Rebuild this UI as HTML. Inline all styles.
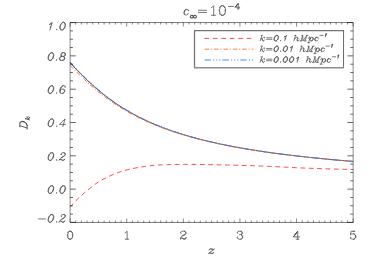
<!DOCTYPE html>
<html lang="en"><head><meta charset="utf-8"><title>Growth factor D_k versus z</title>
<style>
html,body{margin:0;padding:0;background:#fff}
body{width:374px;height:267px;overflow:hidden;font-family:"Liberation Sans",sans-serif}
svg{display:block}
.hv{fill:none;stroke:#505050;stroke-linecap:round;stroke-linejoin:round}
</style></head><body>
<svg width="374" height="267" viewBox="0 0 374 267" role="img" aria-label="Plot of D_k versus z for c_infinity = 10^-4 with k = 0.1, 0.01 and 0.001 hMpc^-1">
<defs>
<path id="gIminus" vector-effect="non-scaling-stroke" d="M4,-9 22,-9"/>
<path id="gIdot" vector-effect="non-scaling-stroke" d="M4,-1 5,0 6,-1 5,-2 4,-1"/>
<path id="gI0" vector-effect="non-scaling-stroke" d="M14,-21 16,-20 17,-19 18,-16 18,-13 17,-9 16,-6 14,-3 12,-1 9,0 11,-1 13,-3 15,-6 16,-9 17,-13 17,-16 16,-19 14,-21 12,-21 10,-20 8,-18 6,-15 5,-12 4,-8 4,-5 5,-2 7,0 5,-1 4,-2 3,-5 3,-8 4,-12 5,-15 7,-18 9,-20 12,-21M9,0 7,0"/>
<path id="gI1" vector-effect="non-scaling-stroke" d="M9,-7 10,-10M13,-18 9,-16 6,-15 8,-16 11,-18 14,-21 8,0"/>
<path id="gI2" vector-effect="non-scaling-stroke" d="M14,-21 16,-20 17,-18 17,-16 16,-14 14,-12 5,-6 3,-4 1,0M7,-17 8,-16 7,-15 6,-16 6,-17 7,-19 8,-20 11,-21 14,-21 17,-20 18,-18 18,-16 17,-14 15,-12 12,-10 8,-8M5,-3 10,-1 13,-1 15,-2 16,-4 15,-1 13,0 10,0 5,-3 3,-3 2,-2"/>
<path id="gI4" vector-effect="non-scaling-stroke" d="M18,-6 2,-6 17,-21 11,0"/>
<path id="gI6" vector-effect="non-scaling-stroke" d="M14,-11 15,-9 15,-5 14,-3 12,-1 10,0 7,0 5,-1 4,-3 4,-8 5,-12 6,-15 8,-18 10,-20 12,-21 9,-20 7,-18 5,-15 4,-12 3,-8 3,-4 4,-2 5,-1M10,0 13,-1 15,-3 16,-5 16,-8 15,-10 14,-11 12,-12 9,-12 7,-11 5,-9 4,-7M12,-21 15,-21 17,-20 18,-18 18,-17 17,-16 16,-17 17,-18"/>
<path id="gI8" vector-effect="non-scaling-stroke" d="M14,-21 16,-20 17,-18 17,-15 16,-13 15,-12 12,-11 9,-11 8,-12 7,-14 7,-17 8,-19 9,-20 11,-21 8,-20 7,-19 6,-17 6,-14 7,-12 9,-11 6,-10 4,-8 3,-6 3,-3 4,-1 6,0 10,0 14,-1 15,-2 16,-4 16,-7 15,-9 14,-10 15,-8 15,-4 14,-2 13,-1 10,0M9,-11 5,-10 3,-8 2,-6 2,-3 3,-1 6,0M11,-21 14,-21 17,-20 18,-18 18,-15 17,-13 16,-12 12,-11 14,-10"/>
<path id="gIeq" vector-effect="non-scaling-stroke" d="M4,-12 22,-12M4,-6 22,-6"/>
<path id="gID" vector-effect="non-scaling-stroke" d="M3,0 9,-21M15,-21 17,-20 18,-19 19,-16 19,-12 18,-8 16,-4 14,-2 12,-1 9,0 13,-1 15,-2 17,-4 19,-8 20,-12 20,-16 19,-19 18,-20 15,-21 6,-21M9,0 0,0"/>
<path id="gIM" vector-effect="non-scaling-stroke" d="M3,0 9,-21 10,0 23,-21 17,0M6,-21 9,-21M23,-21 27,-21M0,0 6,0M14,0 21,0"/>
<path id="gIc" vector-effect="non-scaling-stroke" d="M14,-4 12,-1 9,0 7,0 5,-1 4,-2 3,-4 3,-7 4,-10 6,-13 9,-14 7,-13 5,-10 4,-7 4,-3 5,-1M9,-14 12,-14 14,-13 15,-11 15,-10 14,-10 14,-11"/>
<path id="gIh" vector-effect="non-scaling-stroke" d="M2,0 8,-21M20,-4 19,-2 17,0 14,0 13,-1 13,-4 15,-10 15,-12 13,-14 11,-14 9,-13 7,-11 5,-7M13,-14 15,-13 16,-12 16,-10M9,-21 5,-21M14,-4 14,-1 15,0"/>
<path id="gIk" vector-effect="non-scaling-stroke" d="M2,0 8,-21M9,-21 5,-21M5,-8 7,-8 9,-7 11,-1 12,0M17,-4 15,-1 13,0 11,0 10,-1M8,-7 7,-8 9,-9 13,-13 15,-14 16,-14 17,-13 17,-12 16,-11 15,-12 16,-13"/>
<path id="gIp" vector-effect="non-scaling-stroke" d="M6,-14 7,-13 7,-11 6,-7 2,7M16,-13 17,-11 17,-7 16,-4 14,-1 12,0 10,0 8,-1 7,-4 7,-7 8,-11 8,-13 7,-14 4,-14 2,-12 1,-10M12,0 15,-1 17,-4 18,-7 18,-10 17,-12 16,-13 14,-14 12,-14 10,-13 8,-10 7,-7M-1,7 6,7"/>
<path id="gIz" vector-effect="non-scaling-stroke" d="M6,-2 10,-1 13,-1 15,-2 16,-4M15,-2 13,0 10,0 6,-2 4,-2 3,0M4,-2 6,-4 14,-10 16,-12 14,-12 10,-14 7,-14 5,-12 4,-10M16,-12 17,-14M14,-12 10,-13 7,-13 5,-12"/>
<path id="gRminus" vector-effect="non-scaling-stroke" d="M4,-9 22,-9"/>
<path id="gR0" vector-effect="non-scaling-stroke" d="M11,0 14,-1 16,-4 17,-9 17,-12 16,-17 14,-20 11,-21 13,-20 14,-19 15,-17M11,-21 9,-21 7,-20 6,-19 5,-17 4,-12 4,-9 5,-4 6,-2 7,-1 9,0 11,0 13,-1 14,-2 15,-4M16,-12 16,-9M9,0 6,-1 4,-4M9,-21 6,-20 4,-17M3,-12 3,-9"/>
<path id="gR1" vector-effect="non-scaling-stroke" d="M6,0 15,0M11,0 11,-21 8,-18 6,-17"/>
<path id="gR2" vector-effect="non-scaling-stroke" d="M6,-3 4,-3 3,-2M8,-9 13,-11 16,-13 17,-15 17,-17 16,-19 15,-20 12,-21 14,-20 15,-19 16,-17 16,-15 15,-13 12,-11 6,-8 4,-6 3,-3 3,0M12,-21 8,-21 5,-20 4,-19 3,-17 3,-16 4,-15 5,-16 4,-17M17,-3 16,-1 15,0 11,0 6,-3 11,-1 14,-1 16,-2 17,-3 17,-5"/>
<path id="gR3" vector-effect="non-scaling-stroke" d="M9,-12 12,-12 14,-13 15,-15 15,-18 14,-20 12,-21 15,-20 16,-18 16,-15 15,-13 12,-12 14,-11 16,-9 17,-7 17,-4 16,-2 15,-1 12,0 8,0 5,-1 4,-2 3,-4 3,-5 4,-6 5,-5 4,-4M12,-21 8,-21 5,-20 4,-19 3,-17 3,-16 4,-15 5,-16 4,-17M12,0 14,-1 15,-2 16,-4 16,-7 15,-10"/>
<path id="gR4" vector-effect="non-scaling-stroke" d="M10,-17 2,-6 13,-21 10,-17 5,-10 13,-21 13,0M5,-10 2,-6 18,-6M7,-13 8,-14M9,0 16,0"/>
<path id="gR5" vector-effect="non-scaling-stroke" d="M11,-14 8,-14 5,-13 3,-11 5,-21 15,-21 10,-20M11,0 13,-1 15,-3 16,-6 16,-8 15,-11 13,-13 11,-14 14,-13 16,-11 17,-8 17,-6 16,-3 14,-1 11,0 8,0 5,-1 4,-2 3,-4 3,-5 4,-6 5,-5 4,-4"/>
<path id="gReq" vector-effect="non-scaling-stroke" d="M4,-12 22,-12M4,-6 22,-6"/>
</defs>
<rect width="374" height="267" fill="#fff"/>
<g fill="none">
<path d="M70.1,207.26 L72.96,203.91 L75.82,200.8 L78.68,197.98 L81.54,195.39 L84.4,192.92 L87.25,190.54 L90.11,188.21 L92.97,185.84 L95.83,183.65 L98.69,181.82 L101.55,180.19 L104.41,178.66 L107.27,177.21 L110.13,175.86 L112.99,174.6 L115.85,173.44 L118.7,172.39 L121.56,171.42 L124.42,170.54 L127.28,169.78 L130.14,169.1 L133,168.5 L135.86,167.94 L138.72,167.42 L141.58,166.94 L144.44,166.5 L147.3,166.08 L150.15,165.71 L153.01,165.43 L155.87,165.18 L158.73,164.98 L161.59,164.84 L164.45,164.73 L167.31,164.64 L170.17,164.57 L173.03,164.51 L175.89,164.47 L178.75,164.44 L181.6,164.42 L184.46,164.4 L187.32,164.4 L190.18,164.42 L193.04,164.44 L195.9,164.46 L198.76,164.49 L201.62,164.53 L204.48,164.58 L207.34,164.63 L210.2,164.68 L213.05,164.74 L215.91,164.8 L218.77,164.87 L221.63,164.93 L224.49,164.99 L227.35,165.06 L230.21,165.12 L233.07,165.19 L235.93,165.26 L238.79,165.33 L241.65,165.4 L244.5,165.48 L247.36,165.56 L250.22,165.64 L253.08,165.73 L255.94,165.83 L258.8,165.94 L261.66,166.05 L264.52,166.17 L267.38,166.29 L270.24,166.41 L273.1,166.54 L275.95,166.68 L278.81,166.82 L281.67,166.97 L284.53,167.12 L287.39,167.27 L290.25,167.42 L293.11,167.56 L295.97,167.7 L298.83,167.83 L301.69,167.95 L304.55,168.06 L307.4,168.16 L310.26,168.27 L313.12,168.37 L315.98,168.47 L318.84,168.57 L321.7,168.66 L324.56,168.76 L327.42,168.85 L330.28,168.93 L333.14,169.02 L336,169.1 L338.85,169.18 L341.71,169.25 L344.57,169.32 L347.43,169.38 L350.29,169.44 L353.15,169.5" stroke="#ff4040" stroke-width="0.95" stroke-dasharray="4.75 3.63" stroke-dashoffset="-0.1"/>
<path d="M70.1,62.78 L73.64,66.56 L77.18,70.26 L80.71,73.88 L84.25,77.39 L87.79,80.79 L91.33,84.07 L94.87,87.23 L98.4,90.27 L101.94,93.19 L105.48,95.99 L109.02,98.66 L112.56,101.23 L116.1,103.68 L119.63,106.02 L123.17,108.27 L126.71,110.41 L130.25,112.46 L133.79,114.42 L137.32,116.29 L140.86,118.09 L144.4,119.8 L147.94,121.45 L151.48,123.02 L155.01,124.53 L158.55,125.98 L162.09,127.37 L165.63,128.7 L169.17,129.99 L172.71,131.22 L176.24,132.4 L179.78,133.54 L183.32,134.64 L186.86,135.69 L190.4,136.71 L193.93,137.69 L197.47,138.64 L201.01,139.55 L204.55,140.44 L208.09,141.29 L211.62,142.12 L215.16,142.91 L218.7,143.68 L222.24,144.43 L225.78,145.16 L229.32,145.86 L232.85,146.54 L236.39,147.2 L239.93,147.83 L243.47,148.46 L247.01,149.06 L250.54,149.64 L254.08,150.21 L257.62,150.77 L261.16,151.3 L264.7,151.83 L268.23,152.34 L271.77,152.83 L275.31,153.31 L278.85,153.78 L282.39,154.24 L285.93,154.69 L289.46,155.12 L293,155.55 L296.54,155.96 L300.08,156.37 L303.62,156.76 L307.15,157.15 L310.69,157.52 L314.23,157.89 L317.77,158.25 L321.31,158.6 L324.84,158.95 L328.38,159.28 L331.92,159.61 L335.46,159.93 L339,160.25 L342.54,160.56 L346.07,160.86 L349.61,161.15 L353.15,161.44" stroke="#222" stroke-width="0.8"/>
<path d="M70.1,65.44 L73.64,69.05 L77.18,72.58 L80.71,76.04 L84.25,79.41 L87.79,82.67 L91.33,85.83 L94.87,88.87 L98.4,91.8 L101.94,94.61 L105.48,97.32 L109.02,99.91 L112.56,102.39 L116.1,104.76 L119.63,107.03 L123.17,109.21 L126.71,111.29 L130.25,113.28 L133.79,115.18 L137.32,117.01 L140.86,118.75 L144.4,120.42 L147.94,122.03 L151.48,123.56 L155.01,125.04 L158.55,126.45 L162.09,127.81 L165.63,129.11 L169.17,130.37 L172.71,131.57 L176.24,132.73 L179.78,133.85 L183.32,134.93 L186.86,135.96 L190.4,136.96 L193.93,137.93 L197.47,138.86 L201.01,139.76 L204.55,140.63 L208.09,141.47 L211.62,142.28 L215.16,143.07 L218.7,143.83 L222.24,144.57 L225.78,145.28 L229.32,145.97 L232.85,146.65 L236.39,147.3 L239.93,147.93 L243.47,148.54 L247.01,149.14 L250.54,149.72 L254.08,150.28 L257.62,150.83 L261.16,151.37 L264.7,151.89 L268.23,152.39 L271.77,152.88 L275.31,153.36 L278.85,153.83 L282.39,154.28 L285.93,154.73 L289.46,155.16 L293,155.58 L296.54,156 L300.08,156.4 L303.62,156.79 L307.15,157.17 L310.69,157.55 L314.23,157.91 L317.77,158.27 L321.31,158.62 L324.84,158.96 L328.38,159.3 L331.92,159.63 L335.46,159.95 L339,160.26 L342.54,160.57 L346.07,160.87 L349.61,161.16 L353.15,161.45" stroke="#ff7428" stroke-width="1" stroke-dasharray="4.5 1.9 1 1.9"/>
<path d="M70.1,62.11 L73.64,65.92 L77.18,69.65 L80.71,73.29 L84.25,76.82 L87.79,80.25 L91.33,83.55 L94.87,86.73 L98.4,89.79 L101.94,92.73 L105.48,95.55 L109.02,98.24 L112.56,100.82 L116.1,103.29 L119.63,105.65 L123.17,107.91 L126.71,110.07 L130.25,112.13 L133.79,114.1 L137.32,115.99 L140.86,117.8 L144.4,119.53 L147.94,121.18 L151.48,122.77 L155.01,124.29 L158.55,125.75 L162.09,127.15 L165.63,128.49 L169.17,129.78 L172.71,131.02 L176.24,132.21 L179.78,133.36 L183.32,134.46 L186.86,135.53 L190.4,136.55 L193.93,137.54 L197.47,138.49 L201.01,139.41 L204.55,140.3 L208.09,141.16 L211.62,141.99 L215.16,142.79 L218.7,143.57 L222.24,144.32 L225.78,145.05 L229.32,145.75 L232.85,146.44 L236.39,147.1 L239.93,147.74 L243.47,148.37 L247.01,148.98 L250.54,149.56 L254.08,150.14 L257.62,150.69 L261.16,151.23 L264.7,151.76 L268.23,152.27 L271.77,152.77 L275.31,153.25 L278.85,153.73 L282.39,154.19 L285.93,154.64 L289.46,155.07 L293,155.5 L296.54,155.92 L300.08,156.32 L303.62,156.72 L307.15,157.11 L310.69,157.49 L314.23,157.85 L317.77,158.22 L321.31,158.57 L324.84,158.91 L328.38,159.25 L331.92,159.58 L335.46,159.9 L339,160.22 L342.54,160.53 L346.07,160.83 L349.61,161.13 L353.15,161.42" stroke="#3d72ff" stroke-width="0.92" stroke-dasharray="6.5 2 1.2 1.9 1.2 1.9 1.2 2"/>
<path d="M70.1,22.55V222.45M353.15,22.55V222.45" stroke="#000" stroke-width="0.46"/>
<path d="M70.1,22.55H353.15M70.1,222.45H353.15" stroke="#000" stroke-width="0.52"/>
<path d="M70.1,222.45v-4M70.1,22.55v4M75.76,222.45v-2M75.76,22.55v2M81.42,222.45v-2M81.42,22.55v2M87.08,222.45v-2M87.08,22.55v2M92.74,222.45v-2M92.74,22.55v2M98.4,222.45v-2M98.4,22.55v2M104.07,222.45v-2M104.07,22.55v2M109.73,222.45v-2M109.73,22.55v2M115.39,222.45v-2M115.39,22.55v2M121.05,222.45v-2M121.05,22.55v2M126.71,222.45v-4M126.71,22.55v4M132.37,222.45v-2M132.37,22.55v2M138.03,222.45v-2M138.03,22.55v2M143.69,222.45v-2M143.69,22.55v2M149.35,222.45v-2M149.35,22.55v2M155.01,222.45v-2M155.01,22.55v2M160.68,222.45v-2M160.68,22.55v2M166.34,222.45v-2M166.34,22.55v2M172,222.45v-2M172,22.55v2M177.66,222.45v-2M177.66,22.55v2M183.32,222.45v-4M183.32,22.55v4M188.98,222.45v-2M188.98,22.55v2M194.64,222.45v-2M194.64,22.55v2M200.3,222.45v-2M200.3,22.55v2M205.96,222.45v-2M205.96,22.55v2M211.62,222.45v-2M211.62,22.55v2M217.29,222.45v-2M217.29,22.55v2M222.95,222.45v-2M222.95,22.55v2M228.61,222.45v-2M228.61,22.55v2M234.27,222.45v-2M234.27,22.55v2M239.93,222.45v-4M239.93,22.55v4M245.59,222.45v-2M245.59,22.55v2M251.25,222.45v-2M251.25,22.55v2M256.91,222.45v-2M256.91,22.55v2M262.57,222.45v-2M262.57,22.55v2M268.23,222.45v-2M268.23,22.55v2M273.9,222.45v-2M273.9,22.55v2M279.56,222.45v-2M279.56,22.55v2M285.22,222.45v-2M285.22,22.55v2M290.88,222.45v-2M290.88,22.55v2M296.54,222.45v-4M296.54,22.55v4M302.2,222.45v-2M302.2,22.55v2M307.86,222.45v-2M307.86,22.55v2M313.52,222.45v-2M313.52,22.55v2M319.18,222.45v-2M319.18,22.55v2M324.84,222.45v-2M324.84,22.55v2M330.51,222.45v-2M330.51,22.55v2M336.17,222.45v-2M336.17,22.55v2M341.83,222.45v-2M341.83,22.55v2M347.49,222.45v-2M347.49,22.55v2M353.15,222.45v-4M353.15,22.55v4" stroke="#000" stroke-width="0.45"/>
<path d="M70.1,222.45h5.7M353.15,222.45h-5.7M70.1,214.12h2.85M353.15,214.12h-2.85M70.1,205.79h2.85M353.15,205.79h-2.85M70.1,197.46h2.85M353.15,197.46h-2.85M70.1,189.13h5.7M353.15,189.13h-5.7M70.1,180.8h2.85M353.15,180.8h-2.85M70.1,172.47h2.85M353.15,172.47h-2.85M70.1,164.15h2.85M353.15,164.15h-2.85M70.1,155.82h5.7M353.15,155.82h-5.7M70.1,147.49h2.85M353.15,147.49h-2.85M70.1,139.16h2.85M353.15,139.16h-2.85M70.1,130.83h2.85M353.15,130.83h-2.85M70.1,122.5h5.7M353.15,122.5h-5.7M70.1,114.17h2.85M353.15,114.17h-2.85M70.1,105.84h2.85M353.15,105.84h-2.85M70.1,97.51h2.85M353.15,97.51h-2.85M70.1,89.18h5.7M353.15,89.18h-5.7M70.1,80.85h2.85M353.15,80.85h-2.85M70.1,72.53h2.85M353.15,72.53h-2.85M70.1,64.2h2.85M353.15,64.2h-2.85M70.1,55.87h5.7M353.15,55.87h-5.7M70.1,47.54h2.85M353.15,47.54h-2.85M70.1,39.21h2.85M353.15,39.21h-2.85M70.1,30.88h2.85M353.15,30.88h-2.85M70.1,22.55h5.7M353.15,22.55h-5.7" stroke="#000" stroke-width="0.6"/>
<rect x="194.5" y="30.65" width="149" height="37" fill="#fff"/>
<path d="M194.5,67.65V30.65H343.55" stroke="#747474" stroke-width="1.25" stroke-linejoin="round"/>
<path d="M343.55,30.2V68" stroke="#4a4a4a" stroke-width="0.85"/>
<path d="M194,67.65H343.9" stroke="#8c8c8c" stroke-width="1.5"/>
<path d="M204.4,38.4H253" stroke="#ff4a4a" stroke-width="1" stroke-dasharray="4.7 3.76"/>
<path d="M204.6,49.2H253.3" stroke="#ff8040" stroke-width="1" stroke-dasharray="4.5 1.9 1 2"/>
<path d="M204.5,59.9H253.3" stroke="#a8c4ff" stroke-width="2" stroke-dasharray="6.5 2 1.2 1.9 1.2 1.9 1.2 2"/>
</g>
<g class="hv" stroke-width="0.8">
<g transform="translate(46.94,30) scale(0.378,0.365)"><title>1.0</title><use href="#gI1"/><use href="#gIdot" x="21"/><use href="#gI0" x="31"/></g>
<g transform="translate(46.94,60.4) scale(0.378,0.365)"><title>0.8</title><use href="#gI0"/><use href="#gIdot" x="21"/><use href="#gI8" x="31"/></g>
<g transform="translate(46.94,93.4) scale(0.378,0.365)"><title>0.6</title><use href="#gI0"/><use href="#gIdot" x="21"/><use href="#gI6" x="31"/></g>
<g transform="translate(46.94,126.6) scale(0.378,0.365)"><title>0.4</title><use href="#gI0"/><use href="#gIdot" x="21"/><use href="#gI4" x="31"/></g>
<g transform="translate(46.94,160.4) scale(0.378,0.365)"><title>0.2</title><use href="#gI0"/><use href="#gIdot" x="21"/><use href="#gI2" x="31"/></g>
<g transform="translate(46.94,193.4) scale(0.378,0.365)"><title>0.0</title><use href="#gI0"/><use href="#gIdot" x="21"/><use href="#gI0" x="31"/></g>
<g transform="translate(37.12,222.2) scale(0.378,0.365)"><title>−0.2</title><use href="#gIminus"/><use href="#gI0" x="26"/><use href="#gIdot" x="47"/><use href="#gI2" x="57"/></g>
<g transform="translate(66.2,239.2) scale(0.39,0.382)"><title>0</title><use href="#gR0"/></g>
<g transform="translate(122.81,239.2) scale(0.39,0.382)"><title>1</title><use href="#gR1"/></g>
<g transform="translate(179.42,239.2) scale(0.39,0.382)"><title>2</title><use href="#gR2"/></g>
<g transform="translate(236.03,239.2) scale(0.39,0.382)"><title>3</title><use href="#gR3"/></g>
<g transform="translate(292.64,239.2) scale(0.39,0.382)"><title>4</title><use href="#gR4"/></g>
<g transform="translate(349.25,239.2) scale(0.39,0.382)"><title>5</title><use href="#gR5"/></g>
<g stroke="#383838"><g transform="translate(259.6,40.9) scale(0.295,0.2611)" stroke-width="0.66"><title>k=0.1 hMpc⁻¹</title><use href="#gIk"/><use href="#gIeq" x="20"/><use href="#gI0" x="46"/><use href="#gIdot" x="67"/><use href="#gI1" x="77"/><use href="#gIh" x="114"/><use href="#gIM" x="137"/><use href="#gIp" x="164"/><use href="#gIc" x="184"/><g transform="translate(202,-15.5) scale(0.62)"><use href="#gIminus"/><use href="#gI1" x="26"/></g></g>
<g transform="translate(259.6,51.6) scale(0.295,0.2611)" stroke-width="0.66"><title>k=0.01 hMpc⁻¹</title><use href="#gIk"/><use href="#gIeq" x="20"/><use href="#gI0" x="46"/><use href="#gIdot" x="67"/><use href="#gI0" x="77"/><use href="#gI1" x="98"/><use href="#gIh" x="135"/><use href="#gIM" x="158"/><use href="#gIp" x="185"/><use href="#gIc" x="205"/><g transform="translate(223,-15.5) scale(0.62)"><use href="#gIminus"/><use href="#gI1" x="26"/></g></g>
<g transform="translate(259.6,62.3) scale(0.295,0.2611)" stroke-width="0.66"><title>k=0.001 hMpc⁻¹</title><use href="#gIk"/><use href="#gIeq" x="20"/><use href="#gI0" x="46"/><use href="#gIdot" x="67"/><use href="#gI0" x="77"/><use href="#gI0" x="98"/><use href="#gI1" x="119"/><use href="#gIh" x="156"/><use href="#gIM" x="179"/><use href="#gIp" x="206"/><use href="#gIc" x="226"/><g transform="translate(244,-15.5) scale(0.62)"><use href="#gIminus"/><use href="#gI1" x="26"/></g></g>
</g><g transform="translate(207.6,253.6) scale(0.39,0.3452)"><title>z</title><use href="#gIz"/></g>
<g stroke="#3a3a3a"><g transform="translate(27.1,129.2) rotate(-90) scale(0.39,0.3452)"><title>D_k</title><use href="#gID"/><g transform="translate(23,7) scale(0.52)"><use href="#gIk"/></g></g></g>
<g stroke-width="0.75" stroke="#484848"><title>c∞=10⁻⁴</title><g transform="translate(182.8,15) scale(0.385,0.4)"><use href="#gIc"/></g><path d="M193.35,16.65 C192.6,15.2 191.6,15.0 190.9,15.6 C190.1,16.3 190.1,17.2 190.9,17.8 C191.6,18.3 192.6,18.1 193.35,16.65 C194.1,15.2 195.1,15.0 195.8,15.6 C196.6,16.3 196.6,17.2 195.8,17.8 C195.1,18.3 194.1,18.1 193.35,16.65Z" stroke-width="1.05"/><path d="M198.4,10.3H206.5M198.4,12.45H206.5"/><g transform="translate(208.7,15.3) scale(0.455,0.455)"><use href="#gR1"/><use href="#gR0" x="20"/></g><g transform="translate(227.3,8.8) scale(0.2821,0.2604)"><use href="#gRminus"/><use href="#gR4" x="26"/></g></g>
</g>
</svg>
</body></html>
